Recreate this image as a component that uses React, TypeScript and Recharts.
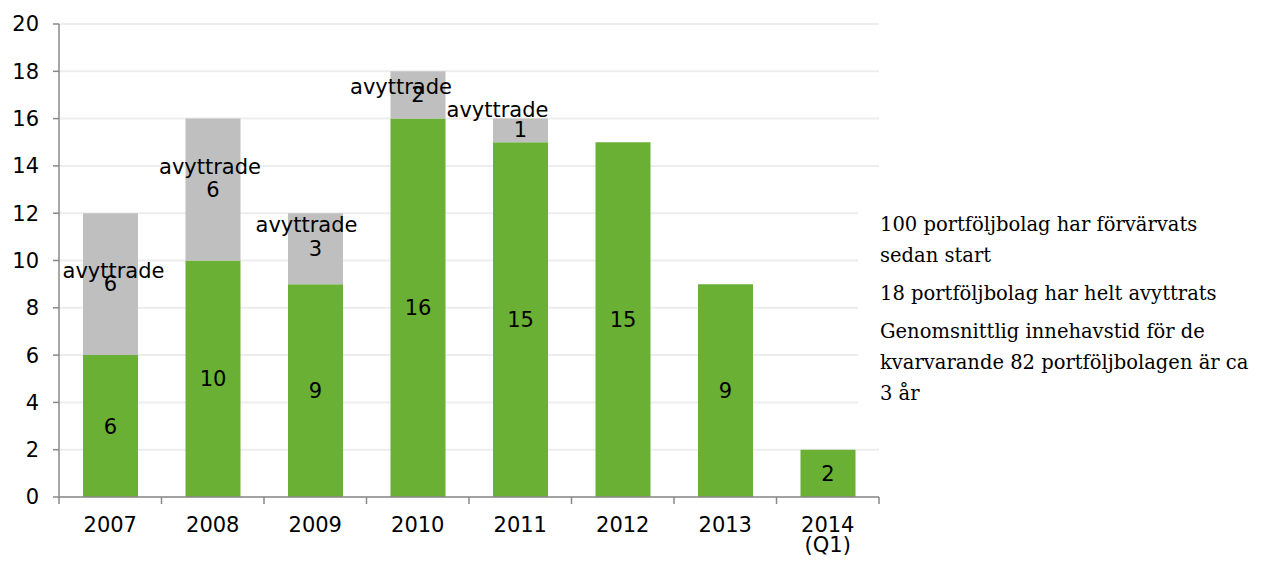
import { BarChart, Bar, XAxis, YAxis, CartesianGrid, LabelList } from 'recharts';

const YEARS = ['2007', '2008', '2009', '2010', '2011', '2012', '2013', '2014 (Q1)'];
const HELD = [6, 10, 9, 16, 15, 15, 9, 2];
const SOLD = [6, 6, 3, 2, 1, 0, 0, 0];
const Y_TICKS = [0, 2, 4, 6, 8, 10, 12, 14, 16, 18, 20];
const NOTES = [
  ['100 portföljbolag har förvärvats', 'sedan start'],
  ['18 portföljbolag har helt avyttrats'],
  ['Genomsnittlig innehavstid för de', 'kvarvarande 82 portföljbolagen är ca', '3 år'],
];

// where Excel dropped the "avyttrade" word relative to the number (px)
const SOLD_TAG_SHIFT: [number, number][] = [
  [3, -13],
  [-3, -23],
  [-9, -24],
  [-17, -8],
  [-23, -20],
  [0, -20],
  [0, -20],
  [0, -20],
];

const GREEN = '#69B034';
const GREY = '#BFBFBF';
const FONT = '"DejaVu Sans", Verdana, sans-serif';

const data = YEARS.map((year, i) => ({ year, held: HELD[i], sold: SOLD[i] }));

function YearTick(props: any) {
  const { x, y, payload, index } = props;
  const half = payload?.offset ?? 51.25;
  const lines = String(payload.value).split(' ');
  return (
    <g>
      <line x1={x - half} y1={y} x2={x - half} y2={y + 7} stroke="#888" strokeWidth={1.5} />
      {index === YEARS.length - 1 && (
        <line x1={x + half} y1={y} x2={x + half} y2={y + 7} stroke="#888" strokeWidth={1.5} />
      )}
      {lines.map((line, i) => (
        <text
          key={i}
          x={x}
          y={y + 28 + i * 20}
          textAnchor="middle"
          dominantBaseline="central"
          fontSize={21}
          fontFamily={FONT}
          fill="#000"
        >
          {line}
        </text>
      ))}
    </g>
  );
}

function SoldLabel(props: any) {
  const { x, y, width, height, value, index } = props;
  if (!value) return null;
  const cx = Number(x) + Number(width) / 2;
  const cy = Number(y) + Number(height) / 2;
  const [dx, dy] = SOLD_TAG_SHIFT[index] ?? [0, -20];
  return (
    <g fontFamily={FONT} fontSize={21} fill="#000" textAnchor="middle">
      <text x={cx + dx} y={cy + dy} dominantBaseline="central">
        avyttrade
      </text>
      <text x={cx} y={cy} dominantBaseline="central">
        {value}
      </text>
    </g>
  );
}

export default function App() {
  return (
    <div
      style={{
        position: 'absolute',
        left: 0,
        top: 0,
        width: 1273,
        height: 562,
        background: '#fff',
        overflow: 'hidden',
      }}
    >
      <BarChart
        width={885}
        height={562}
        data={data}
        margin={{ top: 24, right: 6, bottom: 0, left: 0 }}
        barSize={55}
      >
        <CartesianGrid vertical={false} stroke="#EDEDED" strokeWidth={2} />
        <XAxis
          dataKey="year"
          height={65}
          tickSize={0}
          tickMargin={0}
          axisLine={{ stroke: '#888', strokeWidth: 1.5 }}
          tick={<YearTick />}
          interval={0}
        />
        <YAxis
          width={59}
          domain={[0, 20]}
          ticks={Y_TICKS}
          tickSize={6}
          tickMargin={14}
          axisLine={{ stroke: '#888', strokeWidth: 1.5 }}
          tickLine={{ stroke: '#888', strokeWidth: 1.5 }}
          tick={{ fill: '#000', fontSize: 21, fontFamily: FONT }}
          interval={0}
        />
        <Bar dataKey="held" stackId="a" fill={GREEN} isAnimationActive={false}>
          <LabelList dataKey="held" position="center" fill="#000" fontSize={21} fontFamily={FONT} />
        </Bar>
        <Bar dataKey="sold" stackId="a" fill={GREY} isAnimationActive={false}>
          <LabelList dataKey="sold" content={<SoldLabel />} />
        </Bar>
      </BarChart>
      <div
        style={{
          position: 'absolute',
          left: 858,
          top: 196,
          width: 415,
          paddingLeft: 22,
          paddingTop: 13,
          background: '#fff',
          fontFamily: '"DejaVu Serif", Georgia, serif',
          fontSize: 19.5,
          lineHeight: '31px',
          color: '#000',
          whiteSpace: 'nowrap',
          boxSizing: 'border-box',
        }}
      >
        {NOTES.map((para, i) => (
          <div key={i} style={{ marginBottom: 7 }}>
            {para.map((line, j) => (
              <div key={j}>{line}</div>
            ))}
          </div>
        ))}
      </div>
    </div>
  );
}
